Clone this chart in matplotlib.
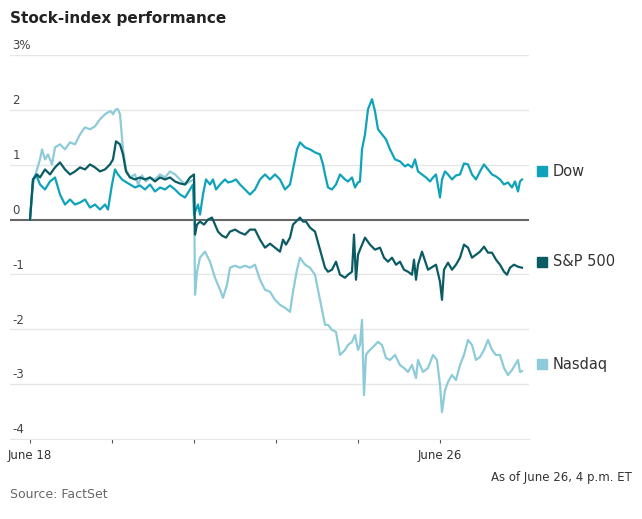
import matplotlib
matplotlib.use("Agg")
import matplotlib.pyplot as plt
import numpy as np

# traced points: (pixel x, pixel y) converted to (trading day, percent)
PX0, PXD, PY0, PYU = 30.0, 82.0, 220.0, 54.7

dow_px = [(30,220),(33,180),(36,175),(40,185),(45,190),(50,182),(55,178),(60,195),(65,205),(70,200),(75,205),(80,203),(85,200),(90,208),(95,205),(100,210),(105,205),(108,210),(112,185),(115,170),(118,175),(122,180),(125,182),(130,185),(135,188),(140,186),(145,190),(150,185),(155,192),(160,188),(165,190),(170,186),(175,190),(180,195),(185,198),(190,190),(193,185),(194,215),(196,210),(198,205),(200,215),(203,195),(206,180),(210,185),(213,180),(216,190),(220,185),(225,180),(228,183),(232,182),(236,180),(240,185),(245,190),(250,195),(255,190),(260,180),(265,175),(270,180),(275,175),(280,180),(285,190),(290,185),(293,170),(297,150),(300,143),(305,148),(310,150),(315,153),(320,155),(323,165),(325,175),(328,188),(332,190),(336,185),(340,175),(345,180),(348,182),(352,178),(355,188),(358,183),(360,182),(362,150),(365,135),(368,110),(372,100),(375,112),(378,130),(382,135),(386,140),(390,150),(395,160),(400,162),(405,167),(408,165),(412,168),(415,160),(418,172),(422,175),(426,178),(430,182),(433,178),(436,175),(440,198),(442,180),(445,172),(448,175),(452,180),(456,176),(460,175),(464,164),(468,165),(472,175),(476,180),(480,172),(484,165),(488,170),(492,175),(496,177),(500,180),(504,185),(508,183),(512,188),(515,182),(518,192),(520,182),(522,180)]
sp_px = [(30,220),(33,180),(37,175),(40,178),(45,170),(50,175),(55,168),(60,163),(65,170),(70,175),(75,172),(80,168),(85,170),(90,165),(95,168),(100,172),(105,170),(110,165),(113,160),(116,142),(120,145),(123,155),(126,172),(130,178),(135,180),(140,178),(145,180),(150,178),(155,182),(160,178),(165,180),(170,178),(175,182),(180,184),(185,185),(190,178),(194,175),(195,235),(197,225),(200,222),(204,225),(208,220),(212,218),(215,225),(218,232),(222,236),(226,238),(230,232),(235,230),(240,233),(245,235),(250,230),(255,230),(260,240),(265,248),(270,244),(275,248),(280,252),(283,240),(286,245),(290,238),(293,225),(296,222),(300,218),(303,222),(306,222),(310,228),(315,232),(320,250),(325,268),(328,272),(332,270),(336,262),(340,275),(345,278),(348,275),(352,272),(354,235),(356,280),(358,255),(360,250),(365,238),(370,245),(375,250),(380,248),(384,258),(388,262),(392,258),(396,265),(400,262),(404,270),(408,272),(412,275),(414,260),(416,280),(418,265),(422,252),(428,270),(436,265),(440,282),(442,300),(444,270),(448,263),(452,270),(456,265),(460,258),(464,245),(468,248),(472,258),(476,255),(480,252),(484,247),(488,253),(492,253),(496,260),(500,265),(504,272),(507,275),(510,268),(514,265),(518,267),(522,268)]
nq_px = [(30,220),(33,185),(37,170),(40,160),(42,150),(45,160),(48,155),(52,165),(55,148),(60,145),(65,150),(70,143),(75,145),(80,135),(85,128),(90,130),(95,127),(100,120),(105,115),(108,113),(111,112),(113,115),(116,110),(118,110),(120,115),(123,150),(126,170),(130,178),(135,175),(138,185),(142,176),(146,182),(150,178),(155,180),(160,175),(165,178),(170,172),(175,175),(180,180),(185,185),(190,182),(194,180),(195,295),(197,272),(200,258),(205,252),(210,262),(215,278),(220,290),(223,298),(227,285),(230,268),(235,266),(240,268),(245,266),(250,268),(255,265),(260,280),(265,290),(270,292),(275,300),(280,305),(285,308),(290,312),(293,292),(297,270),(300,258),(305,265),(310,268),(315,275),(320,300),(325,325),(328,325),(332,330),(336,332),(340,355),(345,350),(348,345),(352,342),(355,335),(358,350),(360,345),(362,320),(364,395),(366,355),(368,352),(372,348),(375,345),(378,342),(382,345),(386,358),(390,360),(395,355),(400,365),(404,368),(408,372),(412,365),(416,378),(418,360),(420,365),(423,372),(428,368),(433,355),(437,360),(440,385),(442,412),(445,390),(448,382),(452,375),(456,380),(460,365),(464,355),(468,340),(472,345),(476,360),(480,357),(484,350),(488,340),(492,350),(496,355),(500,355),(504,368),(508,375),(512,370),(515,365),(518,360),(520,372),(522,371)]

def conv(pts):
    a = np.array(pts, float)
    return (a[:, 0] - PX0) / PXD, (PY0 - a[:, 1]) / PYU

dow_x, dow_y = conv(dow_px)
sp_x, sp_y = conv(sp_px)
nq_x, nq_y = conv(nq_px)

yticks = [3, 2, 1, 0, -1, -2, -3, -4]
ylabels = ["3%", "2", "1", "0", "-1", "-2", "-3", "-4"]
xtick_pos = [0, 1, 2, 3, 4, 5]
xtick_lab = ["June 18", "", "", "", "", "June 26"]

C_DOW, C_SP, C_NQ = "#0ea3ba", "#0b5b64", "#8ecbd8"

fig = plt.figure(figsize=(6.42, 5.19), dpi=100)
W, H = 642, 519
ax = fig.add_axes([10/W, 1-439/H, 519/W, 384/H])
ax.set_xlim((10-PX0)/PXD, (529-PX0)/PXD)
ax.set_ylim(-4, 3)
for v in yticks:
    if v == 0:
        ax.axhline(0, color="#666666", lw=1.5, zorder=3)
    elif v != -4:
        ax.axhline(v, color="#e6e6e6", lw=1, zorder=0)
for s in ["top", "right", "left"]:
    ax.spines[s].set_visible(False)
ax.spines["bottom"].set_color("#e6e6e6")
ax.set_yticks([])
ax.set_xticks(xtick_pos)
ax.set_xticklabels(xtick_lab, fontsize=8.5, color="#333333", family="Liberation Sans Narrow")
ax.tick_params(axis="x", length=3, color="#555555", pad=4)
for v, l in zip(yticks, ylabels):
    ax.text(0.005, v + 0.05, l, transform=ax.get_yaxis_transform(), fontsize=8.5,
            color="#444444", va="bottom", ha="left", family="Liberation Sans Narrow")

ax.plot(nq_x, nq_y, color=C_NQ, lw=1.6, zorder=4)
ax.plot(dow_x, dow_y, color=C_DOW, lw=1.6, zorder=5)
ax.plot(sp_x, sp_y, color=C_SP, lw=1.6, zorder=6)

for name, col, py in [("Dow", C_DOW, 171), ("S&P 500", C_SP, 262), ("Nasdaq", C_NQ, 364)]:
    fig.patches.append(plt.Rectangle((537/W, 1-(py+5)/H), 10/W, 10/H, color=col,
                                     transform=fig.transFigure))
    fig.text(553/W, 1-py/H, name, fontsize=10.5, color="#333333", va="center")

fig.text(10/W, 1-18/H, "Stock-index performance", fontsize=11, fontweight="bold",
         color="#222222", va="center")
fig.text(632/W, 1-477/H, "As of June 26, 4 p.m. ET", fontsize=8.5, color="#333333",
         ha="right", va="center", family="Liberation Sans Narrow")
fig.text(10/W, 1-495/H, "Source: FactSet", fontsize=9, color="#666666", va="center")

fig.savefig("out.png", dpi=100)
